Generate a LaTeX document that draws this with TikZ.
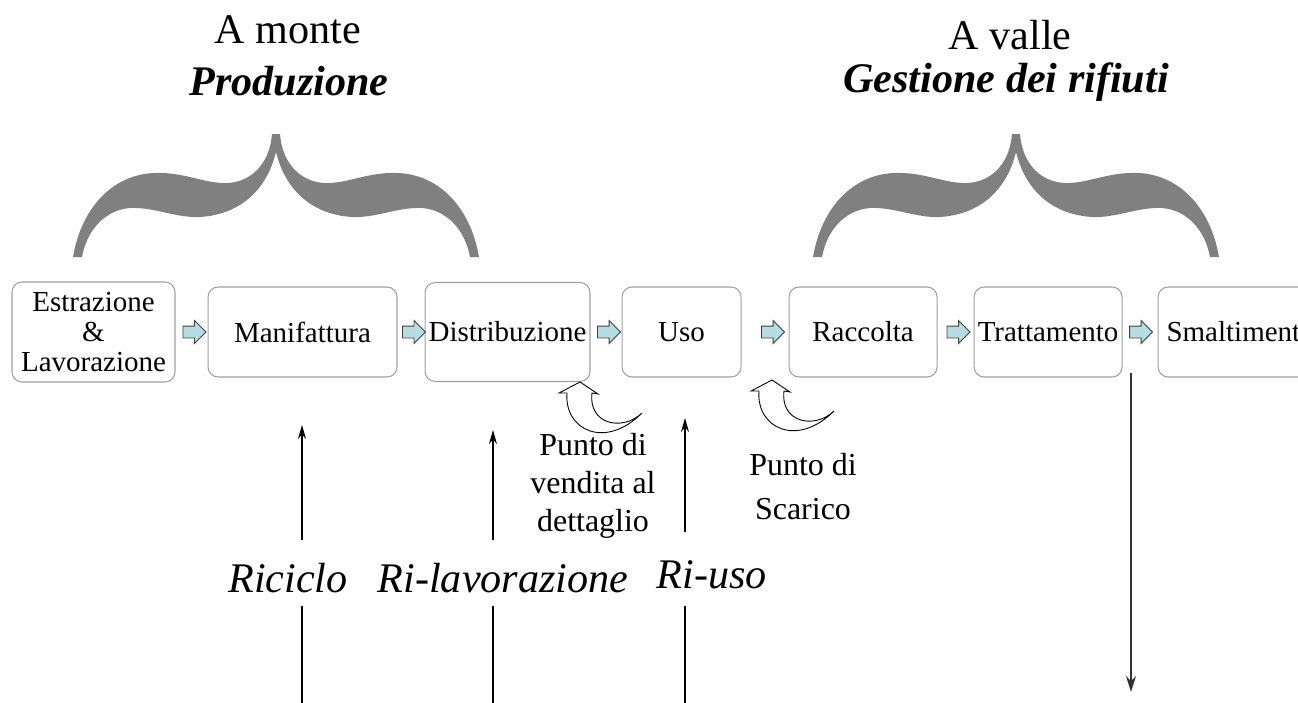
\documentclass[tikz,border=0pt]{standalone}
\usepackage{fontspec}
\setmainfont{Liberation Serif}
\usetikzlibrary{positioning,shapes.arrows,calc,arrows.meta}

\definecolor{bracegray}{RGB}{128,128,128}
\definecolor{aquafill}{RGB}{183,221,226}
\definecolor{boxline}{RGB}{160,160,160}

\begin{document}
\begin{tikzpicture}[x=0.02cm, y=-0.02cm,
    stagebox/.style={rectangle, rounded corners=0.2cm, draw=boxline, fill=white, line width=0.6pt, minimum height=1.8cm, inner sep=0pt, align=center, font=\fontsize{16.5}{17}\selectfont},
    flowarrow/.style={single arrow, draw=black!75, fill=aquafill, line width=0.5pt, minimum height=0.46cm, inner xsep=0pt, inner ysep=0.11cm, single arrow head extend=0.11cm},
    titletext/.style={anchor=base, inner sep=0pt, font=\fontsize{24}{29}\selectfont},
    looplabel/.style={anchor=base, inner sep=0pt, font=\fontsize{24}{29}\selectfont\itshape},
    feedarrow/.style={line width=0.85pt, -{Stealth[length=0.28cm, width=0.16cm]}},
    curly/.pic={
      \fill[bracegray] (-203,123) .. controls (-194,71) and (-161,40) .. (-121,39)
        .. controls (-91,38) and (-71,50) .. (-48,49) .. controls (-21,47) and (-6,26) .. (-4,0)
        -- (4,0) .. controls (6,26) and (21,47) .. (48,49) .. controls (71,50) and (91,38) .. (121,39)
        .. controls (161,40) and (194,71) .. (203,123) -- (194,123)
        .. controls (189,96) and (171,76) .. (146,74) .. controls (121,73) and (101,84) .. (76,83)
        .. controls (31,80) and (8,51) .. (0,18) .. controls (-8,51) and (-31,80) .. (-76,83)
        .. controls (-101,84) and (-121,73) .. (-146,74) .. controls (-171,76) and (-189,96) .. (-194,123) -- cycle;
    },
    uturn/.pic={
      \draw[fill=white, line width=0.5pt] (0,0) -- (-21,11) -- (-13,11)
        .. controls (-16,48) and (25,68) .. (62,31) .. controls (42,50) and (8,42) .. (12,11)
        -- (18,12) -- cycle;
    }]
    \useasboundingbox (0,0) rectangle (1298,703);
    \clip (0,0) rectangle (1298,703);

    % titles
    \node[titletext] (monte) at (288,43) {A monte};
    \node[titletext] (prod)  at (289,95) {\textbf{\textit{Produzione}}};
    \node[titletext] (valle) at (1010,50) {A valle};
    \node[titletext] (gest)  at (1006,92) {\textbf{\textit{Gestione dei rifiuti}}};

    % braces
    \pic at (276,134) {curly};
    \pic at (1016,134) {curly};

    % stages
    \node[stagebox, minimum width=3.26cm, minimum height=2cm] (estr) at (93.5,332) {Estrazione\\\&\\Lavorazione};
    \node[stagebox, minimum width=3.78cm] (manif) [right=0.64cm of estr]  {Manifattura};
    \node[stagebox, minimum width=3.3cm, minimum height=1.98cm] (distr) [right=0.54cm of manif] {Distribuzione};
    \node[stagebox, minimum width=2.38cm] (uso)   [right=0.62cm of distr] {Uso};
    \node[stagebox, minimum width=2.96cm] (racc)  [right=0.94cm of uso]   {Raccolta};
    \node[stagebox, minimum width=2.96cm] (tratt) [right=0.72cm of racc]  {Trattamento};
    \node[stagebox, minimum width=3.3cm]  (smalt) [right=0.7cm of tratt]  {Smaltimento};

    % flow arrows
    \node[flowarrow] (f1) at ($(estr.east)!0.5!(manif.west)$) {};
    \node[flowarrow] (f2) at ($(manif.east)!0.5!(distr.west)$) {};
    \node[flowarrow] (f3) at ($(distr.east)!0.5!(uso.west)$) {};
    \node[flowarrow, xshift=0.1cm] (f4) at ($(uso.east)!0.5!(racc.west)$) {};
    \node[flowarrow] (f5) at ($(racc.east)!0.5!(tratt.west)$) {};
    \node[flowarrow, xshift=-0.04cm] (f6) at ($(tratt.east)!0.5!(smalt.west)$) {};

    % return points
    \pic at (580,382) {uturn};
    \pic at (772,380) {uturn};
    \node[align=center, inner sep=0pt, font=\fontsize{18.2}{21.5}\selectfont] (vend) at (593,486) {Punto di\\vendita al\\dettaglio};
    \node[align=center, inner sep=0pt, font=\fontsize{18.2}{25}\selectfont] (scar) at (803,487) {Punto di\\Scarico};

    % loops
    \node[looplabel] (ricic) at (288,592) {Riciclo};
    \node[looplabel] (rilav) at (503,592) {Ri-lavorazione};
    \node[looplabel] (riuso) at (712,588) {Ri-uso};

    \coordinate (ricic-a) at (302,540);  \coordinate (ricic-b) at (302,425);
    \coordinate (rilav-a) at (493,540);  \coordinate (rilav-b) at (493,430);
    \coordinate (riuso-a) at (685,532);  \coordinate (riuso-b) at (685,418);
    \coordinate (ricic-c) at (302,703);  \coordinate (ricic-d) at (302,606);
    \coordinate (rilav-c) at (493,703);  \coordinate (rilav-d) at (493,606);
    \coordinate (riuso-c) at (685,703);  \coordinate (riuso-d) at (685,606);
    \draw[feedarrow] (ricic-a) -- (ricic-b);
    \draw[feedarrow] (rilav-a) -- (rilav-b);
    \draw[feedarrow] (riuso-a) -- (riuso-b);
    \draw[line width=0.85pt] (ricic-c) -- (ricic-d);
    \draw[line width=0.85pt] (rilav-c) -- (rilav-d);
    \draw[line width=0.85pt] (riuso-c) -- (riuso-d);

    % disposal
    \coordinate (disp-a) at (1131,373);
    \coordinate (disp-b) at (1131,692);
    \draw[line width=1pt, black!80, -{Stealth[length=0.32cm, width=0.2cm]}] (disp-a) -- (disp-b);
\end{tikzpicture}
\end{document}
